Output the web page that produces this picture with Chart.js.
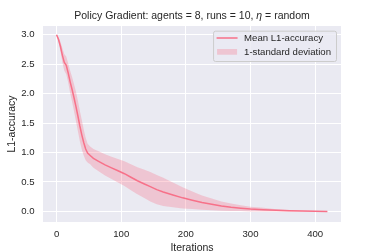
<!DOCTYPE html>
<html>
<head>
<meta charset="utf-8">
<script src="https://cdn.jsdelivr.net/npm/chart.js@4"></script>
<style>
html,body{margin:0;padding:0;background:#fff;}
#wrap{width:366px;height:251px;}
</style>
</head>
<body>
<div id="wrap"><canvas id="c" width="366" height="251"></canvas></div>
<script>
const titleParts = ['Policy Gradient: agents = 8, runs = 10, ', 'η', ' = random'];
const xLabel = 'Iterations';
const yLabel = 'L1-accuracy';
const meanLabel = 'Mean L1-accuracy';
const bandLabel = '1-standard deviation';
const iterations = [0,3,6,9,12,15,18,21,24,27,30,33,36,39,42,45,48,52,57,65,75,85,95,105,115,125,135,145,155,165,180,195,210,225,240,255,270,285,300,320,340,360,380,400,419];
const meanVals = [3.0,2.92,2.8,2.65,2.53,2.48,2.35,2.2,2.07,1.93,1.78,1.62,1.45,1.30,1.17,1.06,0.99,0.95,0.90,0.85,0.79,0.74,0.69,0.64,0.58,0.52,0.47,0.42,0.37,0.33,0.28,0.23,0.19,0.15,0.12,0.09,0.07,0.055,0.04,0.03,0.018,0.01,0.006,0.003,0.0];
const stdVals = [0,0.04,0.08,0.12,0.14,0.15,0.16,0.19,0.21,0.23,0.25,0.26,0.26,0.25,0.22,0.19,0.16,0.15,0.16,0.17,0.18,0.19,0.2,0.21,0.22,0.23,0.24,0.25,0.25,0.24,0.21,0.18,0.15,0.12,0.1,0.08,0.065,0.05,0.04,0.03,0.02,0.012,0.007,0.003,0.0];
const xTicks = [0,100,200,300,400];
const yTicks = [0,0.5,1.0,1.5,2.0,2.5,3.0];

const lineColor = '#f77189';
const bandColor = 'rgba(247,113,137,0.3)';
const textColor = '#262626';
const FONT = "'Liberation Sans', Arial, sans-serif";

const meanPts = iterations.map((x,i)=>({x, y: meanVals[i]}));
const upperPts = iterations.map((x,i)=>({x, y: meanVals[i]+stdVals[i]}));
const lowerPts = iterations.map((x,i)=>({x, y: meanVals[i]-stdVals[i]}));

const bgPlugin = {
  id:'bgPlugin',
  beforeDraw(chart){
    const {ctx, chartArea:a} = chart;
    ctx.save();
    ctx.fillStyle = '#eaeaf2';
    ctx.fillRect(a.left, a.top, a.right-a.left, a.bottom-a.top);
    ctx.restore();
  }
};

const titlePlugin = {
  id:'titlePlugin',
  afterDraw(chart){
    const {ctx, chartArea:a} = chart;
    ctx.save();
    const fonts = ['10.5px '+FONT, 'italic 10.5px '+FONT, '10.5px '+FONT];
    let total = 0;
    const ws = titleParts.map((t,i)=>{ ctx.font = fonts[i]; const w = ctx.measureText(t).width; total += w; return w; });
    let x = (a.left + a.right)/2 - total/2;
    ctx.fillStyle = textColor;
    ctx.textBaseline = 'middle';
    ctx.textAlign = 'left';
    titleParts.forEach((t,i)=>{ ctx.font = fonts[i]; ctx.fillText(t, x, 16); x += ws[i]; });
    ctx.restore();
  }
};

const legendPlugin = {
  id:'legendPlugin',
  afterDraw(chart){
    const {ctx, chartArea:a} = chart;
    ctx.save();
    ctx.font = '9.6px ' + FONT;
    const tw = Math.max(ctx.measureText(meanLabel).width, ctx.measureText(bandLabel).width);
    const right = a.right - 5;
    const top = a.top + 4.7;
    const w = 31 + tw + 5;
    const h = 30.3;
    const left = right - w;
    ctx.beginPath();
    ctx.roundRect(left+0.5, top+0.5, w, h, 2);
    ctx.fillStyle = 'rgba(234,234,242,0.8)';
    ctx.fill();
    ctx.strokeStyle = '#cccccc';
    ctx.lineWidth = 1;
    ctx.stroke();
    ctx.strokeStyle = lineColor;
    ctx.lineWidth = 1.5;
    ctx.beginPath();
    ctx.moveTo(left+3.5, top+7.3);
    ctx.lineTo(left+24.5, top+7.3);
    ctx.stroke();
    ctx.fillStyle = bandColor;
    ctx.fillRect(left+4, top+18.3, 20, 5.7);
    ctx.fillStyle = textColor;
    ctx.textBaseline = 'middle';
    ctx.textAlign = 'left';
    ctx.fillText(meanLabel, left+31, top+7.5);
    ctx.fillText(bandLabel, left+31, top+21.5);
    ctx.restore();
  }
};

new Chart(document.getElementById('c'), {
  type:'line',
  data:{
    datasets:[
      {label:meanLabel, data:meanPts, borderColor:lineColor, borderWidth:1.5, pointRadius:0, fill:false, tension:0, order:0},
      {label:bandLabel, data:upperPts, borderWidth:0, borderColor:'rgba(0,0,0,0)', backgroundColor:bandColor, pointRadius:0, fill:'+1', tension:0, order:1},
      {label:'lower', data:lowerPts, borderWidth:0, borderColor:'rgba(0,0,0,0)', pointRadius:0, fill:false, tension:0, order:1}
    ]
  },
  options:{
    responsive:false,
    animation:false,
    devicePixelRatio:1,
    layout:{padding:{left:0,right:25,top:26,bottom:0}},
    plugins:{
      legend:{display:false},
      tooltip:{enabled:false},
      title:{display:false}
    },
    scales:{
      x:{
        type:'linear', min:-21, max:440,
        afterFit(s){ s.height = 29; },
        afterBuildTicks(s){ s.ticks = xTicks.map(v=>({value:v})); },
        grid:{color:'#ffffff', lineWidth:1, drawTicks:false},
        border:{display:false},
        ticks:{color:textColor, font:{family:FONT, size:9.6}, padding:7},
        title:{display:true, text:xLabel, color:textColor, font:{family:FONT, size:10.5}, padding:{top:0,bottom:-3}}
      },
      y:{
        type:'linear', min:-0.18, max:3.148,
        afterFit(s){ s.width = 43; },
        afterBuildTicks(s){ s.ticks = yTicks.map(v=>({value:v})); },
        grid:{color:'#ffffff', lineWidth:1, drawTicks:false},
        border:{display:false},
        ticks:{color:textColor, font:{family:FONT, size:9.6}, padding:8.5, callback:v=>Number(v).toFixed(1)},
        title:{display:true, text:yLabel, color:textColor, font:{family:FONT, size:10.5}, padding:{top:6,bottom:0}}
      }
    }
  },
  plugins:[bgPlugin, titlePlugin, legendPlugin]
});
</script>
</body>
</html>
